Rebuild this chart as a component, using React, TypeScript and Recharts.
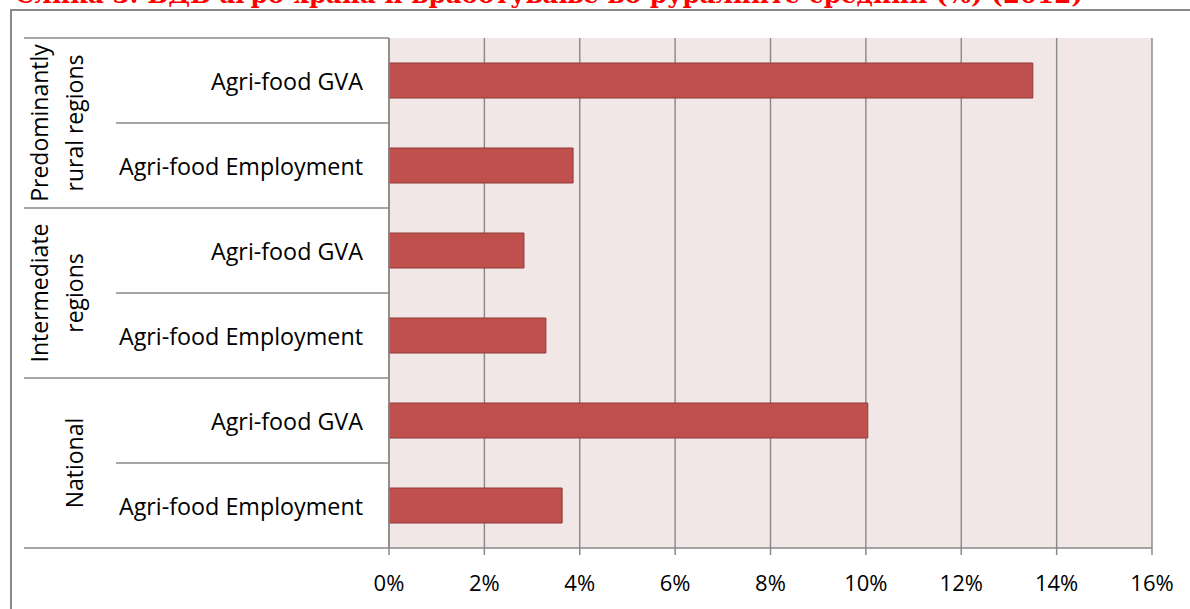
import React from 'react';
import { BarChart, Bar, XAxis, YAxis, CartesianGrid } from 'recharts';

const title = 'Слика 3: БДВ агро-храна и вработување во руралните средини (%) (2012)';
const groups = ['Predominantly rural regions', 'Intermediate regions', 'National'];
const measures = ['Agri-food GVA', 'Agri-food Employment'];
const values = [13.5, 3.86, 2.83, 3.29, 10.04, 3.63];
const xTicks = [0, 2, 4, 6, 8, 10, 12, 14, 16];

const rows = values.map((v, i) => ({
  group: groups[Math.floor(i / measures.length)],
  label: measures[i % measures.length],
  value: v,
}));

const W = 1190;
const H = 609;
const MARGIN = { top: 38, right: 38, bottom: 11, left: 24 };
const X_AXIS_H = 50;
const SUB_W = 273;
const GROUP_W = 92;
const PLOT_H = H - MARGIN.top - MARGIN.bottom - X_AXIS_H;
const BAND_HALF = PLOT_H / rows.length / 2;

const FONT = '"Open Sans", "Noto Sans", sans-serif';
const LINE = '#888888';

const SubTick = (props: any) => {
  const { x, y, payload } = props;
  const i = payload?.index ?? props.index ?? 0;
  const lastInGroup = i % measures.length === measures.length - 1;
  const fullLeft = x - SUB_W - GROUP_W;
  return (
    <g>
      {i === 0 && (
        <line x1={fullLeft} x2={x} y1={y - BAND_HALF} y2={y - BAND_HALF} stroke={LINE} strokeWidth={1.5} />
      )}
      <line
        x1={lastInGroup ? fullLeft : x - SUB_W}
        x2={x}
        y1={y + BAND_HALF}
        y2={y + BAND_HALF}
        stroke={LINE}
        strokeWidth={1.5}
      />
      <text x={x - 26} y={y} textAnchor="end" dominantBaseline="central" fontFamily={FONT} fontSize={23.3} fill="#000">
        {payload.value}
      </text>
    </g>
  );
};

const GroupTick = (props: any) => {
  const { x, y, payload } = props;
  const words = String(payload.value).split(' ');
  const lines = words.length > 1 ? [words[0], words.slice(1).join(' ')] : words;
  return (
    <g>
      {lines.map((ln, k) => {
        const bx = x - 33 - (lines.length - 1 - k) * 35;
        return (
          <text
            key={k}
            x={bx}
            y={y}
            transform={`rotate(-90 ${bx} ${y})`}
            textAnchor="middle"
            fontFamily={FONT}
            fontSize={23}
            fill="#000"
          >
            {ln}
          </text>
        );
      })}
    </g>
  );
};

export default function App() {
  return (
    <div style={{ position: 'fixed', left: 0, top: 0, width: W, height: H, overflow: 'hidden', background: '#fff' }}>
      <svg width={W} height={9} style={{ position: 'absolute', left: 0, top: 0 }}>
        <text
          x={15}
          y={3}
          fontFamily='"DejaVu Serif", serif'
          fontWeight="bold"
          fontSize={24}
          fill="#FF0000"
          textLength={1068}
          lengthAdjust="spacingAndGlyphs"
        >
          {title}
        </text>
      </svg>
      <div
        style={{
          position: 'absolute',
          left: 10,
          top: 9,
          width: 1300,
          height: 700,
          borderTop: '2px solid #8a8a8a',
          borderLeft: '2px solid #8a8a8a',
        }}
      />
      <div style={{ position: 'absolute', left: 0, top: 0 }}>
        <BarChart width={W} height={H} data={rows} layout="vertical" margin={MARGIN}>
          <CartesianGrid
            yAxisId="a_sub"
            horizontal={false}
            vertical={true}
            fill="#F2E7E7"
            stroke={LINE}
            strokeWidth={1.4}
          />
          <XAxis
            type="number"
            domain={[0, 16]}
            ticks={xTicks}
            interval={0}
            height={X_AXIS_H}
            tickFormatter={(v: number) => `${v}%`}
            tickSize={7}
            tickMargin={20}
            axisLine={{ stroke: LINE, strokeWidth: 1.5 }}
            tickLine={{ stroke: LINE, strokeWidth: 1.5 }}
            tick={{ fill: '#000', fontSize: 22, fontFamily: FONT }}
          />
          <YAxis
            yAxisId="a_sub"
            type="category"
            dataKey="label"
            width={SUB_W}
            tickSize={0}
            tickMargin={0}
            interval={0}
            axisLine={{ stroke: LINE, strokeWidth: 1.5 }}
            tickLine={false}
            tick={<SubTick />}
          />
          <YAxis
            yAxisId="b_group"
            type="category"
            dataKey="group"
            allowDuplicatedCategory={false}
            width={GROUP_W}
            tickSize={0}
            tickMargin={0}
            interval={0}
            axisLine={false}
            tickLine={false}
            tick={<GroupTick />}
          />
          <Bar
            yAxisId="a_sub"
            dataKey="value"
            barSize={35}
            fill="#C0504D"
            stroke="#8E3A37"
            strokeWidth={1}
            isAnimationActive={false}
          />
        </BarChart>
      </div>
    </div>
  );
}
